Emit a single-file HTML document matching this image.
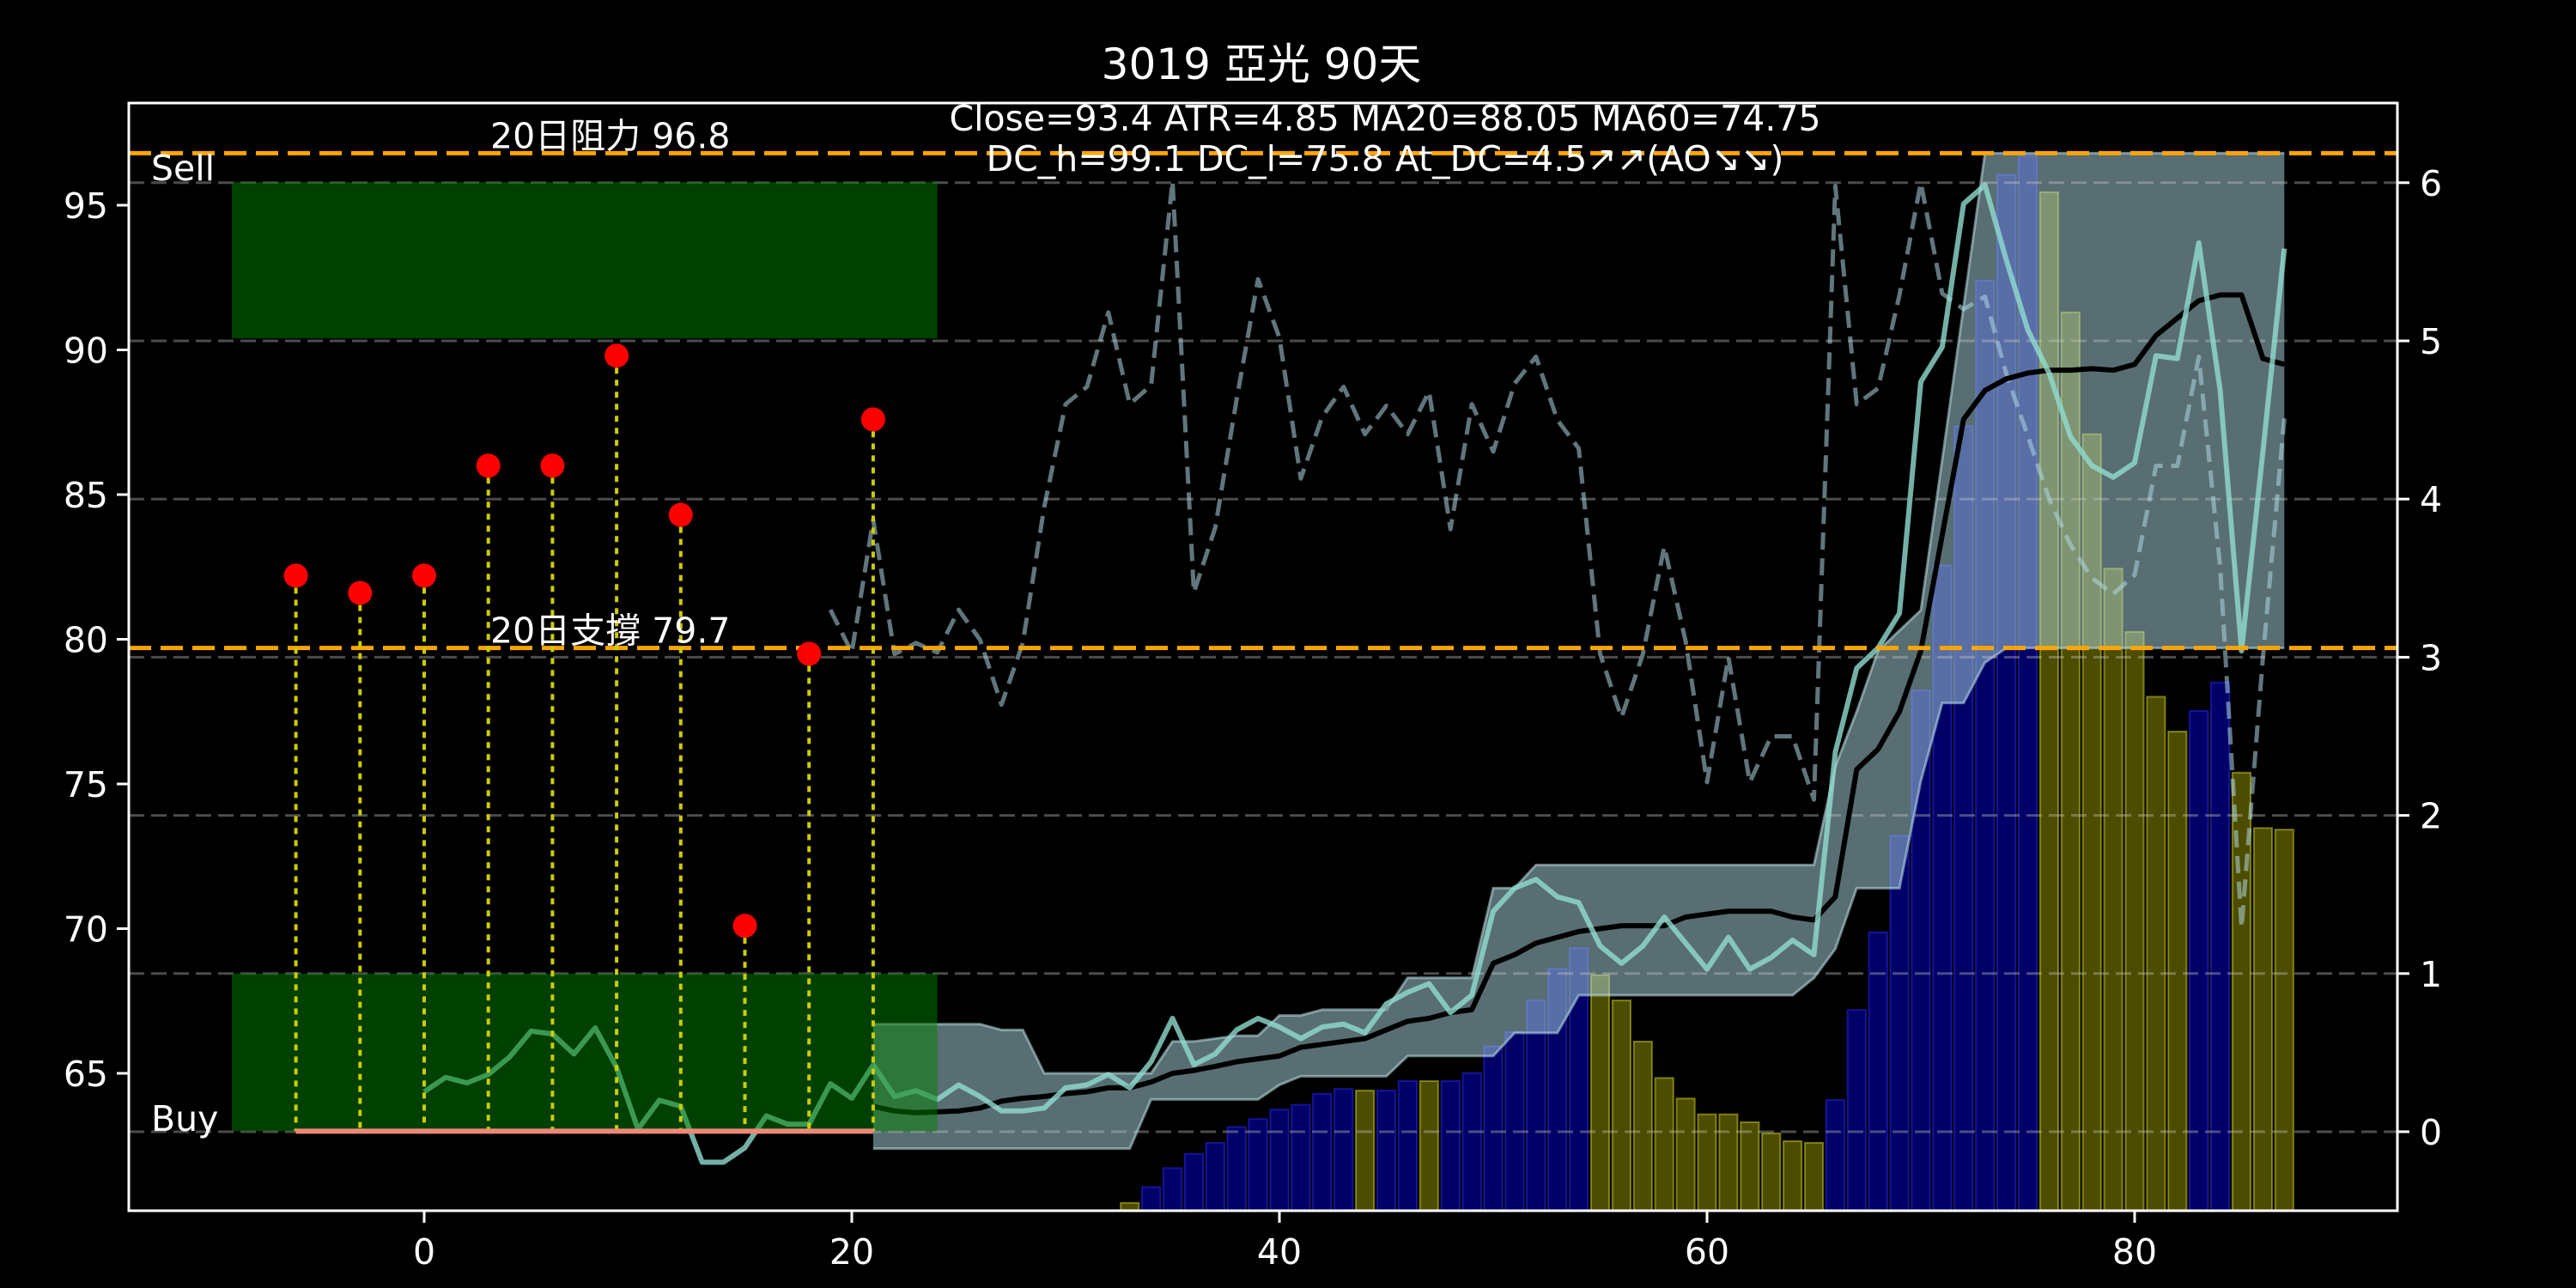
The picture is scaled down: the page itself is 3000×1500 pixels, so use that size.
<!DOCTYPE html>
<html><head><meta charset="utf-8">
<style>
html,body{margin:0;padding:0;background:#000;}
svg{display:block;}
text{font-family:"DejaVu Sans","Liberation Sans","Noto Sans CJK TC",sans-serif;fill:#fff;}
</style></head>
<body>
<svg id="chart" width="3000" height="1500" viewBox="0 0 3000 1500" xmlns="http://www.w3.org/2000/svg">
<rect x="0" y="0" width="3000" height="1500" fill="#000"/>
<g id="g-bars"></g>
<g id="g-band"></g>
<g id="g-grid"></g>
<g id="g-lines"></g>
<g id="g-zones"></g>
<g id="g-signals"></g>
<g id="g-axes"></g>
<text x="1469" y="92" font-size="50" text-anchor="middle">3019 亞光 90天</text>
<text x="1613" y="152" font-size="41" text-anchor="middle">Close=93.4 ATR=4.85 MA20=88.05 MA60=74.75</text>
<text x="1613" y="199" font-size="41" text-anchor="middle">DC_h=99.1 DC_l=75.8 At_DC=4.5↗↗(AO↘↘)</text>
</svg>
<script>
const priceX0 = 0;
const priceVals = [64.36,64.86,64.67,64.96,65.57,66.46,66.36,65.67,66.57,65.2,63.07,64.07,63.86,61.93,61.93,62.43,63.53,63.24,63.24,64.64,64.14,65.29,64.2,64.4,64.1,64.6,64.2,63.7,63.7,63.8,64.5,64.6,64.96,64.5,65.4,66.9,65.3,65.67,66.5,66.9,66.6,66.2,66.6,66.7,66.4,67.4,67.8,68.1,67.1,67.7,70.6,71.4,71.7,71.1,70.9,69.4,68.8,69.4,70.4,69.5,68.6,69.7,68.6,69.0,69.6,69.1,76.1,79.0,79.7,80.9,88.9,90.1,95.05,95.7,93.1,90.7,89.2,87.0,86.0,85.6,86.1,89.8,89.7,93.7,88.6,79.6,86.5,93.5];
const maX0 = 21;
const maVals = [63.86,63.7,63.64,63.67,63.7,63.8,64.04,64.14,64.2,64.3,64.36,64.5,64.5,64.7,65.0,65.1,65.24,65.4,65.5,65.6,65.9,66.0,66.1,66.2,66.5,66.8,66.9,67.1,67.2,68.8,69.1,69.5,69.7,69.9,70.0,70.1,70.1,70.1,70.4,70.5,70.6,70.6,70.6,70.4,70.3,71.1,75.5,76.2,77.5,79.6,83.6,87.6,88.6,89.0,89.2,89.3,89.3,89.35,89.3,89.5,90.5,91.1,91.7,91.9,91.9,89.7,89.5];
const bandX0 = 21;
const bandUpper = [66.7,66.7,66.7,66.7,66.7,66.7,66.5,66.5,65.0,65.0,65.0,65.0,65.0,65.0,66.1,66.1,66.2,66.3,66.3,67.0,67.0,67.2,67.2,67.2,67.2,68.3,68.3,68.3,68.3,71.4,71.4,72.2,72.2,72.2,72.2,72.2,72.2,72.2,72.2,72.2,72.2,72.2,72.2,72.2,72.2,75.6,77.5,79.6,80.3,81.0,86.2,91.5,96.8,96.8,96.8,96.8,96.8,96.8,96.8,96.8,96.8,96.8,96.8,96.8,96.8,96.8,96.8];
const bandLower = [62.4,62.4,62.4,62.4,62.4,62.4,62.4,62.4,62.4,62.4,62.4,62.4,62.4,64.1,64.1,64.1,64.1,64.1,64.1,64.6,64.9,64.9,64.9,64.9,64.9,65.6,65.6,65.6,65.6,65.6,66.4,66.4,66.4,67.7,67.7,67.7,67.7,67.7,67.7,67.7,67.7,67.7,67.7,67.7,68.3,69.3,71.4,71.4,71.4,75.1,77.8,77.8,79.2,79.7,79.7,79.7,79.7,79.7,79.7,79.7,79.7,79.7,79.7,79.7,79.7,79.7,79.7];
const oscX0 = 19;
const oscVals = [3.30,3.03,3.87,3.02,3.09,3.03,3.30,3.11,2.70,3.09,3.95,4.60,4.71,5.18,4.60,4.72,6.01,3.41,3.82,4.63,5.39,5.02,4.13,4.52,4.71,4.41,4.59,4.41,4.68,3.81,4.60,4.30,4.73,4.90,4.50,4.32,3.02,2.62,3.02,3.70,3.10,2.21,3.00,2.21,2.50,2.50,2.10,5.98,4.60,4.70,5.29,6.00,5.30,5.20,5.28,4.79,4.40,4.00,3.71,3.50,3.40,3.52,4.21,4.21,4.90,3.57,1.29,3.00,4.51];
const barX0 = 33;
const barVals = [-0.45,-0.35,-0.23,-0.14,-0.07,0.03,0.08,0.14,0.17,0.24,0.27,0.26,0.26,0.32,0.32,0.32,0.37,0.54,0.63,0.83,1.03,1.16,0.99,0.83,0.57,0.34,0.21,0.11,0.11,0.06,-0.01,-0.06,-0.07,0.2,0.77,1.26,1.87,2.79,3.58,4.46,5.38,6.05,6.17,5.94,5.18,4.41,3.56,3.16,2.75,2.53,2.66,2.84,2.27,1.92,1.91];
const barDir = ['D','U','U','U','U','U','U','U','U','U','U','D','U','U','D','U','U','U','U','U','U','U','D','D','D','D','D','D','D','D','D','D','D','U','U','U','U','U','U','U','U','U','U','D','D','D','D','D','D','D','U','U','D','D','D'];
const sigX = [-6,-3,0,3,6,9,12,15,18,21];
const sigY = [82.2,81.6,82.2,86,86,89.8,84.3,70.1,79.5,87.6];
const resistance = 96.8;
const support = 79.7;
const buyLevel = 63;
const zoneX = [-9,24];
const sellZone = [90.4,95.8];
const buyZone = [63.0,68.45];
const leftTicks = [65,70,75,80,85,90,95];
const rightTicks = [0,1,2,3,4,5,6];
const xTicks = [0,20,40,60,80];

const NS = 'http://www.w3.org/2000/svg';
const FL = 150, FR = 2792, FT = 120, FB = 1410;
function xS(v){ return 494 + 24.9*v; }
function yL(v){ return 239 + (95 - v)*33.7; }
function yR(v){ return 1318 - 184.2*v; }
function mk(tag, attrs, parent){
  const e = document.createElementNS(NS, tag);
  for (const k in attrs) e.setAttribute(k, attrs[k]);
  parent.appendChild(e);
  return e;
}
const gBars = document.getElementById('g-bars');
const gBand = document.getElementById('g-band');
const gGrid = document.getElementById('g-grid');
const gLines = document.getElementById('g-lines');
const gZones = document.getElementById('g-zones');
const gSig = document.getElementById('g-signals');
const gAx = document.getElementById('g-axes');

const bw = 0.85*24.9;
barVals.forEach((v,i)=>{
  const x = xS(barX0+i) - bw/2;
  const y0 = yR(-0.5), y1 = yR(v);
  const up = barDir[i] === 'U';
  const r = mk('rect', {x:x, y:Math.min(y0,y1), width:bw, height:Math.abs(y0-y1),
    fill: up ? 'rgba(0,0,255,0.4)' : 'rgba(255,255,0,0.3)',
    stroke: up ? 'rgba(40,40,255,0.5)' : 'rgba(230,230,40,0.45)', 'stroke-width':2}, gBars);
  
  
});

let up = [], lo = [];
bandUpper.forEach((v,i)=>up.push(xS(bandX0+i)+','+yL(v)));
bandLower.forEach((v,i)=>lo.push(xS(bandX0+i)+','+yL(v)));
const bandPoly = mk('polygon', {points: up.concat(lo.slice().reverse()).join(' '), fill:'rgba(176,220,228,0.5)'}, gBand);


const bu = mk('polyline', {points: up.join(' '), fill:'none', stroke:'rgba(190,225,230,0.55)', 'stroke-width':3}, gBand);


const bl = mk('polyline', {points: lo.join(' '), fill:'none', stroke:'rgba(190,225,230,0.55)', 'stroke-width':3}, gBand);



rightTicks.forEach(t=>{
  const l = mk('line', {x1:FL, x2:FR, y1:yR(t), y2:yR(t), stroke:'rgba(200,200,200,0.38)', 'stroke-width':3, 'stroke-dasharray':'18,8'}, gGrid);
  
  
});

const oscPts = oscVals.map((v,i)=>xS(oscX0+i)+','+yR(v)).join(' ');
const osc = mk('polyline', {points: oscPts, fill:'none', stroke:'rgba(175,215,225,0.55)', 'stroke-width':5, 'stroke-dasharray':'20,10', 'stroke-linejoin':'round'}, gLines);



const ma = mk('polyline', {points: maVals.map((v,i)=>xS(maX0+i)+','+yL(v)).join(' '), fill:'none', stroke:'#000', 'stroke-width':6, 'stroke-linejoin':'round'}, gLines);



const pr = mk('polyline', {points: priceVals.map((v,i)=>xS(priceX0+i)+','+yL(v)).join(' '), fill:'none', stroke:'rgba(145,220,208,0.8)', 'stroke-width':6, 'stroke-linejoin':'round'}, gLines);



const sz = mk('rect', {x:xS(zoneX[0]), y:yL(sellZone[1]), width:xS(zoneX[1])-xS(zoneX[0]), height:yL(sellZone[0])-yL(sellZone[1]), fill:'rgba(0,128,0,0.5)'}, gZones);


const bz = mk('rect', {x:xS(zoneX[0]), y:yL(buyZone[1]), width:xS(zoneX[1])-xS(zoneX[0]), height:yL(buyZone[0])-yL(buyZone[1]), fill:'rgba(0,128,0,0.5)'}, gZones);



[[resistance,'resistance-line'],[support,'support-line']].forEach(p=>{
  const l = mk('line', {x1:FL, x2:FR, y1:yL(p[0]), y2:yL(p[0]), stroke:'#ffa500', 'stroke-width':5, 'stroke-dasharray':'26,11'}, gSig);
  
  
});

sigX.forEach((sx,i)=>{
  const l = mk('line', {x1:xS(sx), x2:xS(sx), y1:yL(sigY[i]), y2:yL(buyLevel), stroke:'#cccc00', 'stroke-width':4, 'stroke-dasharray':'7,7'}, gSig);
  
  
});
const sal = mk('line', {x1:xS(sigX[0]), x2:xS(sigX[sigX.length-1]), y1:yL(buyLevel), y2:yL(buyLevel), stroke:'#f08878', 'stroke-width':6}, gSig);


sigX.forEach((sx,i)=>{
  const c = mk('circle', {cx:xS(sx), cy:yL(sigY[i]), r:14, fill:'#ff0000'}, gSig);
  
  
});

function txt(x,y,s,size,anchor,name,parent){
  const t = mk('text', {x:x, y:y, 'font-size':size, 'text-anchor':anchor}, parent);
  t.textContent = s;
  
  
  return t;
}
txt(571, yL(resistance)-6, '20日阻力 96.8', 41, 'start', 'resistance-label', gSig);
txt(571, yL(support)-6, '20日支撐 79.7', 41, 'start', 'support-label', gSig);
txt(176, 210, 'Sell', 41, 'start', 'sell-label', gSig);
txt(176, 1317, 'Buy', 41, 'start', 'buy-label', gSig);

const fr = mk('rect', {x:FL, y:FT, width:FR-FL, height:FB-FT, fill:'none', stroke:'#fff', 'stroke-width':3}, gAx);


leftTicks.forEach(t=>{
  const y = yL(t);
  const l = mk('line', {x1:FL-14, x2:FL, y1:y, y2:y, stroke:'#fff', 'stroke-width':3}, gAx);
  
  
  txt(FL-24, y+15, String(t), 41, 'end', 'left-tick-label', gAx);
});
rightTicks.forEach(t=>{
  const y = yR(t);
  const l = mk('line', {x1:FR, x2:FR+14, y1:y, y2:y, stroke:'#fff', 'stroke-width':3}, gAx);
  
  
  txt(FR+26, y+15, String(t), 41, 'start', 'right-tick-label', gAx);
});
xTicks.forEach(t=>{
  const x = xS(t);
  const l = mk('line', {x1:x, x2:x, y1:FB, y2:FB+14, stroke:'#fff', 'stroke-width':3}, gAx);
  
  
  txt(x, 1472, String(t), 41, 'middle', 'x-tick-label', gAx);
});
</script>
</body></html>
